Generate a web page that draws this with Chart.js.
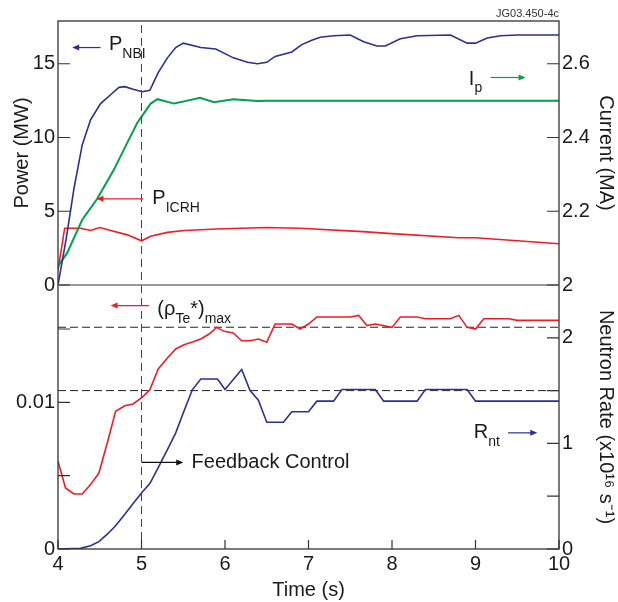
<!DOCTYPE html>
<html>
<head>
<meta charset="utf-8">
<script src="https://cdn.jsdelivr.net/npm/chart.js@4.4.1/dist/chart.umd.min.js"></script>
<style>
    html, body { margin: 0; padding: 0; background: #fff; }
</style>
</head>
<body>
<canvas id="shotChart" width="618" height="602"></canvas>
<script>
// top panel: heating powers (MW) and plasma current (MA)
const nbiTime = [4.0, 4.1, 4.19, 4.29, 4.39, 4.51, 4.63, 4.73, 4.8, 4.91, 5.01, 5.1, 5.2, 5.31, 5.41, 5.5, 5.71, 5.89, 6.1, 6.27, 6.39, 6.5, 6.6, 6.8, 6.92, 7.04, 7.14, 7.3, 7.5, 7.66, 7.82, 7.92, 8.1, 8.3, 8.7, 8.9, 9.0, 9.14, 9.3, 9.5, 10];
const nbiPower = [0, 3.2, 6.5, 9.5, 11.2, 12.3, 12.9, 13.4, 13.45, 13.25, 13.1, 13.2, 14.4, 15.4, 16.1, 16.4, 16.1, 16.0, 15.4, 15.1, 15.0, 15.1, 15.5, 15.8, 16.3, 16.6, 16.8, 16.9, 16.95, 16.5, 16.2, 16.2, 16.7, 16.9, 16.95, 16.4, 16.4, 16.75, 16.9, 16.95, 16.95];
const icrhTime = [4.0, 4.08, 4.27, 4.39, 4.5, 4.63, 4.83, 5.0, 5.11, 5.31, 5.51, 5.9, 6.5, 6.9, 7.7, 7.95, 8.8, 9.0, 10];
const icrhPower = [1.0, 3.85, 3.85, 3.7, 3.9, 3.7, 3.4, 3.0, 3.3, 3.57, 3.7, 3.8, 3.9, 3.85, 3.6, 3.5, 3.2, 3.2, 2.8];
const ipTime = [4.0, 4.11, 4.29, 4.47, 4.67, 4.83, 4.95, 5.11, 5.19, 5.39, 5.55, 5.7, 5.87, 6.1, 6.39, 6.5, 10];
const ipCurrent = [2.051, 2.087, 2.177, 2.234, 2.313, 2.386, 2.44, 2.492, 2.504, 2.492, 2.5, 2.508, 2.496, 2.504, 2.499, 2.5, 2.5];

// bottom panel: (rho_Te*)max and neutron rate (1e16 /s)
const rhoTime = [4.0, 4.09, 4.19, 4.29, 4.39, 4.49, 4.59, 4.69, 4.8, 4.9, 5.01, 5.1, 5.2, 5.31, 5.41, 5.51, 5.61, 5.71, 5.81, 5.9, 5.99, 6.1, 6.2, 6.3, 6.4, 6.5, 6.6, 6.8, 6.9, 7.0, 7.1, 7.5, 7.6, 7.7, 7.8, 8.0, 8.1, 8.3, 8.4, 8.7, 8.8, 8.9, 9.0, 9.1, 9.4, 9.5, 10];
const rhoMax = [0.00598, 0.00416, 0.00375, 0.00375, 0.00439, 0.00518, 0.00723, 0.00939, 0.00977, 0.00989, 0.01036, 0.01086, 0.01227, 0.01302, 0.01364, 0.01393, 0.01411, 0.01432, 0.01466, 0.01511, 0.01484, 0.01473, 0.0142, 0.0142, 0.01432, 0.0141, 0.01534, 0.01534, 0.015, 0.01534, 0.01582, 0.01582, 0.01593, 0.01523, 0.01534, 0.01511, 0.01582, 0.01582, 0.0157, 0.0157, 0.01593, 0.01511, 0.015, 0.0157, 0.0157, 0.01559, 0.01559];
const rntTime = [4.0, 4.27, 4.39, 4.49, 4.59, 4.69, 4.8, 4.9, 5.01, 5.1, 5.2, 5.31, 5.41, 5.51, 5.61, 5.71, 5.91, 6.0, 6.2, 6.3, 6.4, 6.5, 6.7, 6.8, 7.0, 7.1, 7.3, 7.4, 7.8, 7.9, 8.3, 8.4, 8.9, 9.0, 10];
const rntRate = [0, 0.006, 0.03, 0.07, 0.14, 0.22, 0.33, 0.43, 0.54, 0.62, 0.77, 0.94, 1.10, 1.31, 1.51, 1.61, 1.61, 1.51, 1.70, 1.50, 1.41, 1.20, 1.20, 1.30, 1.30, 1.40, 1.40, 1.51, 1.51, 1.40, 1.40, 1.51, 1.51, 1.40, 1.40];
const refRates = [2.1, 1.5];
const feedbackTime = 5;

// ticks
const timeTicks = [4, 5, 6, 7, 8, 9, 10];
const powerTicks = [0, 5, 10, 15];
const currentTicks = [2, 2.2, 2.4, 2.6];
const rhoTicks = [0, 0.005, 0.01, 0.015];
const rhoTickLabels = ['0', '', '0.01', ''];
const rateTicks = [0, 0.5, 1, 1.5, 2];
const rateTickLabels = ['0', '', '1', '', '2'];

const BLUE = '#2a3192';
const RED = '#ee1d25';
const GREEN = '#00a14b';
const FONT = '"Liberation Sans", Arial, sans-serif';

function pts(xs, ys) {
    return xs.map((x, i) => ({x: x, y: ys[i]}));
}

const datasets = [
    {label: 'P_NBI', data: pts(nbiTime, nbiPower), yAxisID: 'yP', borderColor: BLUE},
    {label: 'I_p', data: pts(ipTime, ipCurrent), yAxisID: 'yI', borderColor: GREEN, borderWidth: 2},
    {label: 'P_ICRH', data: pts(icrhTime, icrhPower), yAxisID: 'yP', borderColor: RED},
    {label: 'rho', data: pts(rhoTime, rhoMax), yAxisID: 'yRho', borderColor: RED},
    {label: 'R_nt', data: pts(rntTime, rntRate), yAxisID: 'yN', borderColor: BLUE}
];
refRates.forEach(r => {
    datasets.push({label: 'ref', data: [{x: 4, y: r}, {x: 10, y: r}], yAxisID: 'yN',
        borderColor: '#222', borderWidth: 1, borderDash: [8, 4]});
});

// annotations: arrow (t0 -> t1 at value v on axis) and rich label
const notes = [
    {axis: 'yP', v: 16.1, t0: 4.51, t1: 4.17, color: BLUE, tx: 4.61, dy: -3, parts: [['P', 0], ['NBI', 1]]},
    {axis: 'yP', v: 5.84, t0: 5.02, t1: 4.46, color: RED, tx: 5.13, dy: 0, parts: [['P', 0], ['ICRH', 1]]},
    {axis: 'yP', v: 14.07, t0: 9.18, t1: 9.6, color: GREEN, tx: 8.92, dy: 2, parts: [['I', 0], ['p', 1]]},
    {axis: 'yRho', v: 0.0166, t0: 5.09, t1: 4.63, color: RED, tx: 5.19, dy: 4, parts: [['(ρ', 0], ['Te', 1], ['*)', 0], ['max', 1]]},
    {axis: 'yRho', v: 0.0059, t0: 5.0, t1: 5.5, color: '#111', tx: 5.6, dy: 0, parts: [['Feedback Control', 0]]},
    {axis: 'yN', v: 1.1, t0: 9.39, t1: 9.74, color: BLUE, tx: 8.98, dy: 0, parts: [['R', 0], ['nt', 1]]}
];

function fixTicks(values, labels) {
    return {
        afterBuildTicks: (scale) => { scale.ticks = values.map(v => ({value: v})); },
        ticks: {
            autoSkip: false, padding: 3, color: '#1a1a1a', font: {family: FONT, size: 20},
            callback: (v, i) => labels ? labels[i] : String(v)
        }
    };
}

function yScale(pos, min, max, values, labels, title, width, titlePad) {
    const f = fixTicks(values, labels);
    return Object.assign({
        type: 'linear', position: pos, stack: pos, stackWeight: 1, min: min, max: max,
        grid: {display: false, drawTicks: false}, border: {display: false},
        title: {display: !!title, text: title, color: '#1a1a1a', font: {family: FONT, size: 20},
            padding: {top: titlePad, bottom: 0}},
        afterFit: (s) => { s.width = width; }
    }, f);
}

const framePlugin = {
    id: 'frame',
    afterDraw(chart) {
        const ctx = chart.ctx;
        const a = chart.chartArea;
        const s = chart.scales;
        ctx.save();
        // vertical dashed line at feedback start
        const xf = s.x.getPixelForValue(feedbackTime);
        ctx.strokeStyle = '#444';
        ctx.lineWidth = 1;
        ctx.setLineDash([8, 5]);
        ctx.beginPath();
        ctx.moveTo(xf, a.top + 4);
        ctx.lineTo(xf, a.bottom);
        ctx.stroke();
        ctx.setLineDash([]);

        // panel border
        ctx.strokeStyle = '#333';
        ctx.lineWidth = 1.3;
        ctx.strokeRect(a.left, a.top, a.right - a.left, a.bottom - a.top);
        ctx.strokeStyle = '#777';
        ctx.beginPath();
        ctx.moveTo(a.left, s.yP.bottom);
        ctx.lineTo(a.right, s.yP.bottom);
        ctx.stroke();

        // inward tick marks
        ctx.strokeStyle = '#333';
        ctx.lineWidth = 1.2;
        ctx.beginPath();
        ['yP', 'yRho'].forEach(id => s[id].ticks.forEach(t => {
            const y = s[id].getPixelForValue(t.value);
            ctx.moveTo(a.left, y); ctx.lineTo(a.left + 12, y);
        }));
        ['yI', 'yN'].forEach(id => s[id].ticks.forEach(t => {
            const y = s[id].getPixelForValue(t.value);
            ctx.moveTo(a.right, y); ctx.lineTo(a.right - 12, y);
        }));
        s.x.ticks.forEach(t => {
            const x = s.x.getPixelForValue(t.value);
            ctx.moveTo(x, a.bottom); ctx.lineTo(x, a.bottom - 9);
        });
        ctx.stroke();

        // annotations
        notes.forEach(n => {
            const y = s[n.axis].getPixelForValue(n.v);
            const x0 = s.x.getPixelForValue(n.t0);
            const x1 = s.x.getPixelForValue(n.t1);
            const dir = x1 > x0 ? 1 : -1;
            ctx.strokeStyle = n.color;
            ctx.fillStyle = n.color;
            ctx.lineWidth = 1.2;
            ctx.beginPath();
            ctx.moveTo(x0, y); ctx.lineTo(x1 - dir * 5, y);
            ctx.stroke();
            ctx.beginPath();
            ctx.moveTo(x1, y); ctx.lineTo(x1 - dir * 7, y - 3); ctx.lineTo(x1 - dir * 7, y + 3);
            ctx.closePath();
            ctx.fill();

            let tx = s.x.getPixelForValue(n.tx);
            const ty = y + n.dy;
            ctx.fillStyle = '#1a1a1a';
            ctx.textAlign = 'left';
            n.parts.forEach(p => {
                if (p[1]) {
                    ctx.font = '14px ' + FONT;
                    ctx.textBaseline = 'alphabetic';
                    ctx.fillText(p[0], tx, ty + 13);
                } else {
                    ctx.font = '20px ' + FONT;
                    ctx.textBaseline = 'middle';
                    ctx.fillText(p[0], tx, ty);
                }
                tx += ctx.measureText(p[0]).width;
            });
        });

        // figure reference
        ctx.font = '11px ' + FONT;
        ctx.fillStyle = '#333';
        ctx.textAlign = 'right';
        ctx.textBaseline = 'middle';
        ctx.fillText('JG03.450-4c', a.right, 14);
        ctx.restore();
    }
};

const xOpts = fixTicks(timeTicks, null);
const chart = new Chart(document.getElementById('shotChart').getContext('2d'), {
    type: 'line',
    data: {datasets: datasets},
    options: {
        responsive: false,
        animation: false,
        layout: {padding: {top: 21, left: 0, right: 0, bottom: 0}},
        elements: {
            point: {radius: 0},
            line: {borderWidth: 1.6, tension: 0, fill: false}
        },
        plugins: {legend: {display: false}, tooltip: {enabled: false}},
        scales: {
            x: Object.assign({
                type: 'linear', min: 4, max: 10,
                grid: {display: false, drawTicks: false}, border: {display: false},
                title: {display: true, text: 'Time (s)', color: '#1a1a1a', font: {family: FONT, size: 20},
                    padding: {top: 0, bottom: 0}},
                afterFit: (s) => { s.height = 53; }
            }, xOpts),
            // left stack is laid out bottom-up, right stack top-down
            yRho: yScale('left', 0, 0.018, rhoTicks, rhoTickLabels, '', 58, 10),
            yP: yScale('left', 0, 17.9, powerTicks, null, 'Power (MW)', 58, 10),
            yI: yScale('right', 2, 2.716, currentTicks, null, 'Current (MA)', 59, 0),
            yN: yScale('right', 0, 2.5, rateTicks, rateTickLabels, 'Neutron Rate (x10¹⁶ s⁻¹)', 59, 0)
        }
    },
    plugins: [framePlugin]
});
</script>
</body>
</html>
